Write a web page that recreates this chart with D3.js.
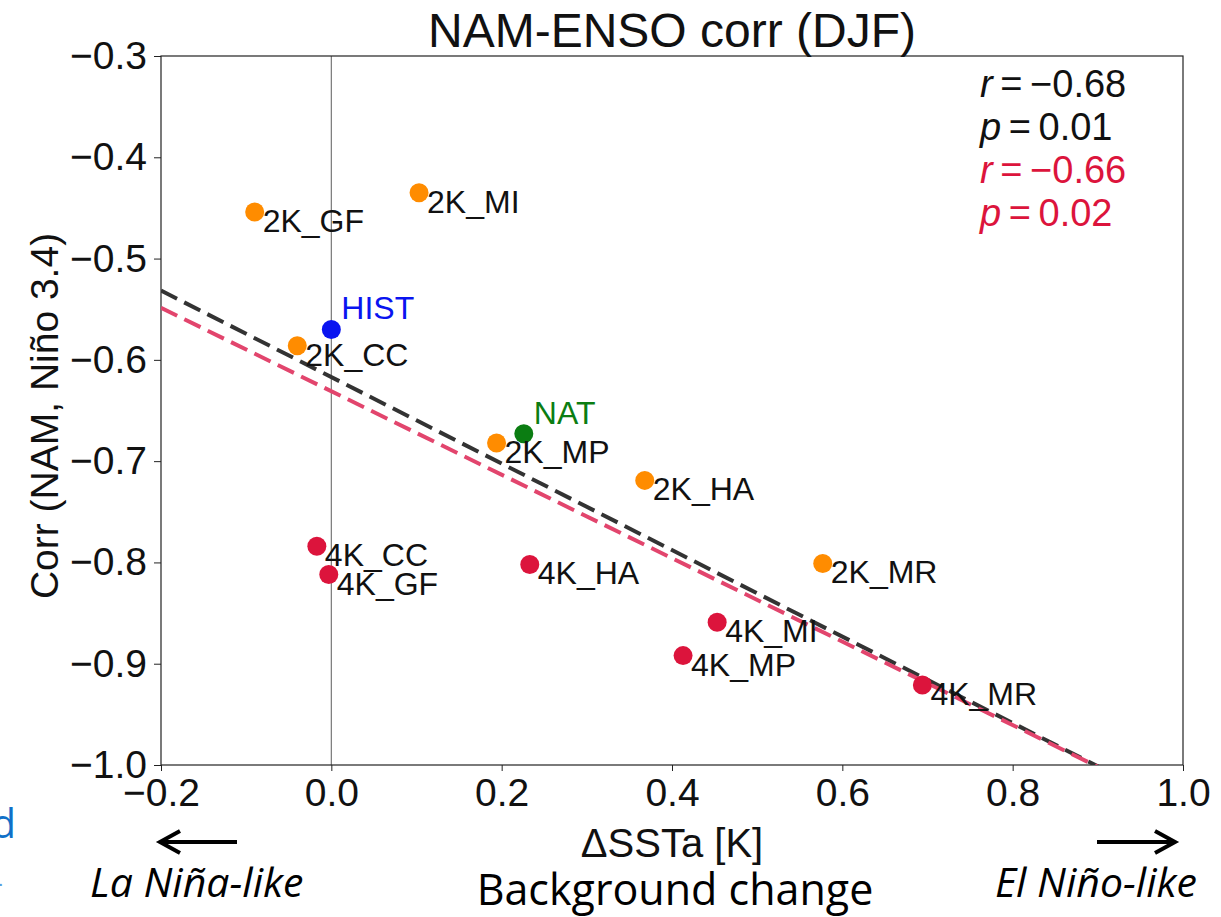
<!DOCTYPE html>
<meta charset="utf-8">
<style>
body { margin: 0; background: #fff; }
svg { font-family: "Liberation Sans", Arial, sans-serif; }
.tick text { font-size: 39px; fill: #111; }
.tick line { stroke: #222; }
.frame { fill: none; stroke: #222; stroke-width: 1.2; }
.zero { stroke: #777; stroke-width: 1.2; }
.fit { fill: none; stroke-width: 4; stroke-dasharray: 18 8; }
.lab { font-size: 32px; fill: #111; }
.note { font-family: "Open Sans", "Noto Sans", sans-serif; fill: #000; }
</style>
<svg width="1221" height="917"></svg>
<script src="https://cdn.jsdelivr.net/npm/d3@7"></script>
<script>

// experiments, DeltaSSTa (K) and corr(NAM, Nino3.4)
var names = ["HIST", "NAT", "2K_GF", "2K_MI", "2K_CC", "2K_MP", "2K_HA", "2K_MR",
             "4K_CC", "4K_GF", "4K_HA", "4K_MI", "4K_MP", "4K_MR"];
var dSST = [0.0, 0.226, -0.090, 0.103, -0.040, 0.194, 0.368, 0.577,
            -0.017, -0.003, 0.233, 0.453, 0.413, 0.694];
var corr = [-0.570, -0.673, -0.454, -0.435, -0.586, -0.682, -0.719, -0.801,
            -0.784, -0.812, -0.802, -0.859, -0.892, -0.921];
var group = ["hist", "nat", "2K", "2K", "2K", "2K", "2K", "2K",
             "4K", "4K", "4K", "4K", "4K", "4K"];

// regression fits: all runs (black) and +2K/+4K only (red)
var fits = [
  {name: "all", slope: -0.427, intercept: -0.617, r: "\u22120.68", p: "0.01"},
  {name: "pert", slope: -0.412, intercept: -0.631, r: "\u22120.66", p: "0.02"}
];

var xTicks = [-0.2, 0.0, 0.2, 0.4, 0.6, 0.8, 1.0];
var yTicks = [-1.0, -0.9, -0.8, -0.7, -0.6, -0.5, -0.4, -0.3];

var color = {hist: "#0a14f0", nat: "#0b7d12", "2K": "#ff8c00", "4K": "#dc143c"};
var fitColor = {all: "#333333", pert: "#e2456d"};
var textColor = {all: "#111", pert: "#dc143c"};

var svg = d3.select("svg"),
    x0 = 161, x1 = 1183, y0 = 56, y1 = 765;

var x = d3.scaleLinear().domain([-0.2, 1.0]).range([x0, x1]);
var y = d3.scaleLinear().domain([-1.0, -0.3]).range([y1, y0]);

svg.append("defs").append("clipPath").attr("id", "plot")
  .append("rect").attr("x", x0).attr("y", y0)
    .attr("width", x1 - x0).attr("height", y1 - y0);

svg.append("g")
    .attr("transform", "translate(0," + y1 + ")")
    .call(d3.axisBottom(x).tickValues(xTicks).tickFormat(d3.format(".1f")).tickSize(6).tickPadding(7))
    .call(function(g) { g.select(".domain").remove(); g.attr("font-family", null).attr("font-size", null); });

svg.append("g")
    .attr("transform", "translate(" + x0 + ",0)")
    .call(d3.axisLeft(y).tickValues(yTicks).tickFormat(d3.format(".1f")).tickSize(7).tickPadding(7))
    .call(function(g) { g.select(".domain").remove(); g.attr("font-family", null).attr("font-size", null); });

svg.append("line").attr("class", "zero")
    .attr("x1", x(0)).attr("x2", x(0)).attr("y1", y0).attr("y2", y1);

svg.append("rect").attr("class", "frame")
    .attr("x", x0).attr("y", y0).attr("width", x1 - x0).attr("height", y1 - y0);

// fit lines
var line = d3.line().x(function(d) { return x(d[0]); }).y(function(d) { return y(d[1]); });
svg.append("g").attr("clip-path", "url(#plot)")
  .selectAll("path").data(fits).enter().append("path")
    .attr("class", "fit")
    .attr("stroke", function(d) { return fitColor[d.name]; })
    .attr("d", function(d) {
      return line([-0.2, 1.0].map(function(v) { return [v, d.intercept + d.slope * v]; }));
    });

var idx = d3.range(names.length);
function isCtl(i) { return group[i] === "hist" || group[i] === "nat"; }

svg.append("g").selectAll("circle").data(idx).enter().append("circle")
    .attr("cx", function(i) { return x(dSST[i]); })
    .attr("cy", function(i) { return y(corr[i]); })
    .attr("r", 9.5)
    .attr("fill", function(i) { return color[group[i]]; });

svg.append("g").selectAll("text").data(idx).enter().append("text")
    .attr("class", "lab")
    .attr("x", function(i) { return x(dSST[i]) + (isCtl(i) ? 10 : 8); })
    .attr("y", function(i) { return y(corr[i]) + (isCtl(i) ? -10 : 20); })
    .style("fill", function(i) { return isCtl(i) ? color[group[i]] : null; })
    .text(function(i) { return names[i]; });

// r / p annotations
var stats = svg.append("g").attr("transform", "translate(980,0)");
fits.forEach(function(f, k) {
  var rows = [["r", "\u2009=\u2009" + f.r], ["p", "\u2009=\u2009" + f.p]];
  rows.forEach(function(row, j) {
    var t = stats.append("text")
        .attr("y", 97 + (k * 2 + j) * 43)
        .attr("font-size", 38)
        .attr("fill", textColor[f.name]);
    t.append("tspan").attr("font-style", "italic").text(row[0]);
    t.append("tspan").text(row[1]);
  });
});

// titles
svg.append("text")
    .attr("x", (x0 + x1) / 2).attr("y", 47)
    .attr("text-anchor", "middle").attr("font-size", 48).attr("fill", "#111")
    .text("NAM-ENSO corr (DJF)");

svg.append("text")
    .attr("x", (x0 + x1) / 2).attr("y", 857)
    .attr("text-anchor", "middle").attr("font-size", 40).attr("fill", "#111")
    .text("\u0394SSTa [K]");

svg.append("text")
    .attr("transform", "translate(58,416) rotate(-90)")
    .attr("text-anchor", "middle").attr("font-size", 39).attr("fill", "#111")
    .text("Corr (NAM, Ni\u00f1o 3.4)");

// slide annotations below the figure
function arrow(xa, xb, yy) {
  var s = xb > xa ? -1 : 1;
  svg.append("path")
      .attr("d", "M" + xa + "," + yy + "H" + xb + "M" + (xb + s * 20) + "," + (yy - 11) + "L" + xb + "," + yy + "L" + (xb + s * 20) + "," + (yy + 11))
      .attr("fill", "none").attr("stroke", "#000").attr("stroke-width", 4);
}
arrow(237, 160, 842);
arrow(1097, 1175, 842);

svg.append("text").attr("class", "note")
    .attr("x", 90).attr("y", 897).attr("font-size", 41).attr("font-style", "italic")
    .text("La Ni\u00f1a-like");
svg.append("text").attr("class", "note")
    .attr("x", 675).attr("y", 905).attr("text-anchor", "middle").attr("font-size", 43)
    .text("Background change");
svg.append("text").attr("class", "note")
    .attr("x", 1197).attr("y", 897).attr("text-anchor", "end").attr("font-size", 41).attr("font-style", "italic")
    .text("El Ni\u00f1o-like");

// fragments of slide text cut by the left edge
svg.append("text").attr("class", "note")
    .attr("x", 16).attr("y", 838).attr("text-anchor", "end").attr("font-size", 40)
    .style("fill", "#1070c8").text("ed");
svg.append("text").attr("class", "note")
    .attr("x", 3).attr("y", 893).attr("text-anchor", "end").attr("font-size", 30)
    .style("fill", "#5aa0e0").text("-");

</script>
